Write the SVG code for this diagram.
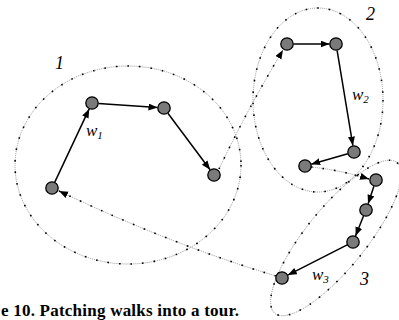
<svg xmlns="http://www.w3.org/2000/svg" width="399" height="320" viewBox="0 0 399 320">
<style>
.dotg{fill:none;stroke:#8a8a8a;stroke-width:0.9;stroke-dasharray:1 1}
.dotk{fill:none;stroke:#000;stroke-width:1.6;stroke-dasharray:1.6 10}
.edge{fill:none;stroke:#000;stroke-width:1.5}
.node{fill:#7a7a7a;stroke:#000;stroke-width:1.3}
.lbl{font-family:"Liberation Serif","Times New Roman",serif;font-style:italic;font-size:18px;fill:#000}
.w{font-size:17px}
.sub{font-size:11px}
.cap{font-family:"Liberation Serif","Times New Roman",serif;font-weight:bold;font-size:17px;fill:#000}
</style>
<defs>
<marker id="ah" markerUnits="userSpaceOnUse" markerWidth="10" markerHeight="8" refX="9" refY="3.5" orient="auto">
<path d="M0,0 L9,3.5 L0,7 z" fill="#000"/>
</marker>
</defs>
<g id="clusters">
<g id="cluster1"><ellipse class="dotg" cx="128" cy="165" rx="113" ry="99"/><ellipse class="dotk" cx="128" cy="165" rx="113" ry="99"/></g>
<g id="cluster2"><ellipse class="dotg" cx="318" cy="100" rx="65" ry="92"/><ellipse class="dotk" cx="318" cy="100" rx="65" ry="92"/></g>
<g id="cluster3"><ellipse class="dotg" cx="336" cy="238" rx="97" ry="30" transform="rotate(-51 336 238)"/><ellipse class="dotk" cx="336" cy="238" rx="97" ry="30" transform="rotate(-51 336 238)"/></g>
</g>
<g id="connectors">
<path class="edge" d="M54.8,182.1 L89.2,108.9" marker-end="url(#ah)"/>
<path class="edge" d="M98.5,103.4 L157.5,107.6" marker-end="url(#ah)"/>
<path class="edge" d="M167.9,113.2 L210.1,169.8" marker-end="url(#ah)"/>
<path class="edge" d="M293.5,44 L329.5,44" marker-end="url(#ah)"/>
<path class="edge" d="M337.1,50.4 L352.9,145.6" marker-end="url(#ah)"/>
<path class="edge" d="M347.8,153.8 L311.2,164.2" marker-end="url(#ah)"/>
<path class="edge" d="M373.9,186.2 L368.1,203.8" marker-end="url(#ah)"/>
<path class="edge" d="M363.5,216 L355.5,236" marker-end="url(#ah)"/>
<path class="edge" d="M347.2,244.9 L287.8,275.1" marker-end="url(#ah)"/>
<path class="dotg" d="M219,169 Q248,108 283,50" marker-end="url(#ah)"/>
<path class="dotk" d="M219,169 Q248,108 283,50"/>
<path class="dotg" d="M311,167 Q340,170 369,179" marker-end="url(#ah)"/>
<path class="dotk" d="M311,167 Q340,170 369,179"/>
<path class="dotg" d="M276,276 Q170,244 59,191" marker-end="url(#ah)"/>
<path class="dotk" d="M276,276 Q170,244 59,191"/>
</g>
<g id="nodes">
<circle id="n1a" class="node" cx="52" cy="188" r="6.2"/>
<circle id="n1b" class="node" cx="92" cy="103" r="6.2"/>
<circle id="n1c" class="node" cx="164" cy="108" r="6.2"/>
<circle id="n1d" class="node" cx="214" cy="175" r="6.2"/>
<circle id="n2a" class="node" cx="287" cy="44" r="6.2"/>
<circle id="n2b" class="node" cx="336" cy="44" r="6.2"/>
<circle id="n2c" class="node" cx="354" cy="152" r="6.2"/>
<circle id="n2d" class="node" cx="305" cy="166" r="6.2"/>
<circle id="n3a" class="node" cx="376" cy="180" r="6.2"/>
<circle id="n3b" class="node" cx="366" cy="210" r="6.2"/>
<circle id="n3c" class="node" cx="353" cy="242" r="6.2"/>
<circle id="n3d" class="node" cx="282" cy="278" r="6.2"/>
</g>
<g id="labels">
<text class="lbl" x="55" y="69">1</text>
<text class="lbl w" x="86" y="136">w<tspan class="sub" dy="3">1</tspan></text>
<text class="lbl" x="366" y="20">2</text>
<text class="lbl w" x="352" y="100">w<tspan class="sub" dy="3">2</tspan></text>
<text class="lbl w" x="312" y="280">w<tspan class="sub" dy="3">3</tspan></text>
<text class="lbl" x="360" y="285">3</text>
<text class="cap" x="1" y="316" textLength="238" lengthAdjust="spacing">e 10.  Patching walks into a tour.</text>
</g>
</svg>
